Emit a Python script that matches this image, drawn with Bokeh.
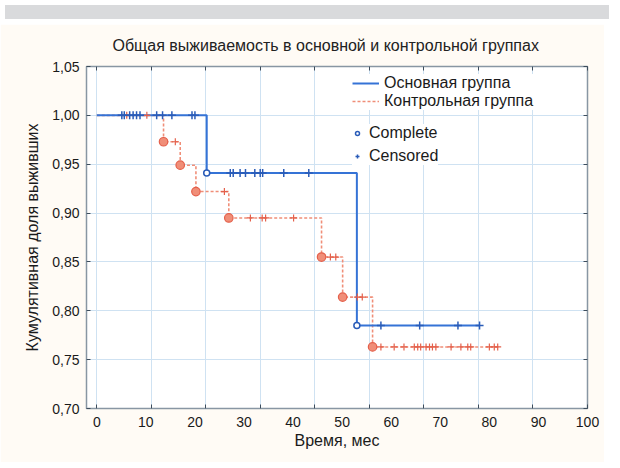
from bokeh.plotting import figure
from bokeh.models import (Range1d, LinearAxis, FixedTicker, CustomJSTickFormatter,
                          Legend, LegendItem, Div)
from bokeh.layouts import column
from bokeh.embed import file_html
from bokeh.resources import INLINE

# ---------------- data ----------------
# Основная группа (main group): event times and survival after each step
main_event_t = [0.0, 22.4, 53.0]
main_surv = [1.0, 0.941, 0.785]
main_end_t = 78.0
main_complete_t = [22.4, 53.0]
main_cens_t = [5.1, 5.6, 6.7, 7.4, 8.1, 8.8, 12.2, 13.4, 15.3, 19.4, 20.0,
               27.2, 27.8, 29.2, 30.3, 32.2, 33.3, 33.8, 38.1, 43.2,
               57.9, 65.8, 73.6, 78.0]

# Контрольная группа (control group)
ctrl_event_t = [0.0, 13.6, 17.0, 20.2, 26.9, 45.8, 50.1, 56.2]
ctrl_surv = [1.0, 0.973, 0.949, 0.922, 0.895, 0.855, 0.814, 0.763]
ctrl_end_t = 82.0
ctrl_complete_t = [13.6, 17.0, 20.2, 26.9, 45.8, 50.1, 56.2]
ctrl_cens_t = [6.1, 10.2, 16.0, 26.0, 31.3, 33.7, 34.4, 40.1, 47.6, 48.7,
               53.1, 54.1, 57.9, 60.6, 62.6, 64.7, 65.4, 66.0, 67.1, 67.8,
               68.4, 69.1, 72.2, 74.2, 75.6, 76.2, 80.0, 81.0, 81.7]

x_label_ticks = [0, 10, 20, 30, 40, 50, 60, 70, 80, 90, 100]
x_grid_ticks = [0, 11.11, 22.22, 33.33, 44.44, 55.56, 66.67, 77.78, 88.89, 100]
y_ticks = [0.70, 0.75, 0.80, 0.85, 0.90, 0.95, 1.00, 1.05]

title_text = "Общая выживаемость в основной и контрольной группах"
x_title = "Время, мес"
y_title = "Кумулятивная доля выживших"
main_name = "Основная группа"
ctrl_name = "Контрольная группа"


def surv_at(times, event_t, surv):
    out = []
    for t in times:
        s = surv[0]
        for et, sv in zip(event_t, surv):
            if et <= t:
                s = sv
        out.append(s)
    return out


FONT = "Liberation Sans"
BLUE = "#3573d6"
SALMON = "#f08e78"
RED = "#e4604b"
TICK = "#3d4d5c"

p = figure(width=604, height=438, output_backend="svg", toolbar_location=None,
           x_range=Range1d(-2.1, 100), y_range=Range1d(0.70, 1.05),
           min_border_left=86, min_border_right=17, min_border_top=42,
           min_border_bottom=54)
p.background_fill_color = "white"
p.border_fill_color = "#fffbf5"
p.outline_line_color = "#8896a3"
p.outline_line_width = 1.5

# title
p.title.text = title_text
p.title.align = "left"
p.title.offset = 26
p.title.standoff = 21
p.title.vertical_align = "top"
p.title.text_font = FONT
p.title.text_font_size = "16px"
p.title.text_font_style = "normal"
p.title.text_color = "#222222"


def tick_only(axis):
    axis.formatter = CustomJSTickFormatter(code="return '';")
    axis.major_label_text_font_size = "1px"
    axis.major_label_text_color = None
    axis.major_label_standoff = 0
    axis.major_tick_in = 4
    axis.major_tick_out = 0
    axis.major_tick_line_color = TICK
    axis.minor_tick_line_color = None
    axis.axis_line_color = None


# x tick-only axis (adjacent to frame)
xa = p.xaxis[0]
xa.ticker = FixedTicker(ticks=x_grid_ticks)
tick_only(xa)

# x label axis
xl = LinearAxis(ticker=FixedTicker(ticks=x_label_ticks), axis_label=x_title,
                major_tick_line_color=None, minor_tick_line_color=None,
                axis_line_color=None, major_label_standoff=2,
                major_label_text_font=FONT, major_label_text_font_size="14px",
                major_label_text_color="#1a1a1a",
                axis_label_text_font=FONT, axis_label_text_font_size="16px",
                axis_label_text_font_style="normal", axis_label_text_color="#1a1a1a",
                axis_label_standoff=2)
p.add_layout(xl, "below")

# y axis
ya = p.yaxis[0]
ya.ticker = FixedTicker(ticks=y_ticks)
ya.formatter = CustomJSTickFormatter(code="return tick.toFixed(2).replace('.', ',');")
ya.major_tick_in = 4
ya.major_tick_out = 0
ya.major_tick_line_color = TICK
ya.minor_tick_line_color = None
ya.axis_line_color = None
ya.major_label_standoff = 7
ya.major_label_text_font = FONT
ya.major_label_text_font_size = "14px"
ya.major_label_text_color = "#1a1a1a"
ya.axis_label = y_title
ya.axis_label_text_font = FONT
ya.axis_label_text_font_size = "16px"
ya.axis_label_text_font_style = "normal"
ya.axis_label_text_color = "#1a1a1a"
ya.axis_label_standoff = 8

# tick-only axes above and right
xt = LinearAxis(ticker=FixedTicker(ticks=x_grid_ticks))
tick_only(xt)
p.add_layout(xt, "above")
yr = LinearAxis(ticker=FixedTicker(ticks=y_ticks))
tick_only(yr)
p.add_layout(yr, "right")

# grids
p.xgrid.grid_line_color = "#cfe2f2"
p.ygrid.grid_line_color = "#cfe2f2"
p.xgrid.grid_line_width = 1
p.ygrid.grid_line_width = 1

# curves
ctrl_line = p.step(x=ctrl_event_t + [ctrl_end_t], y=ctrl_surv + [ctrl_surv[-1]],
                   mode="after", line_color=SALMON, line_width=1.6, line_dash="3 2")
main_line = p.step(x=main_event_t + [main_end_t], y=main_surv + [main_surv[-1]],
                   mode="after", line_color=BLUE, line_width=2)

p.scatter(x=ctrl_complete_t, y=surv_at(ctrl_complete_t, ctrl_event_t, ctrl_surv),
          marker="circle", size=8.5, fill_color=SALMON, line_color=RED, line_width=1.2)
p.scatter(x=ctrl_cens_t, y=surv_at(ctrl_cens_t, ctrl_event_t, ctrl_surv),
          marker="cross", size=7, line_color=RED, line_width=1.2)
main_complete = p.scatter(x=main_complete_t, y=surv_at(main_complete_t, main_event_t, main_surv),
                          marker="circle", size=6, fill_color="white", line_color="#2a5cb8",
                          line_width=1.5)
main_cens = p.scatter(x=main_cens_t, y=surv_at(main_cens_t, main_event_t, main_surv),
                      marker="cross", size=8, line_color="#2a5cb8", line_width=1.5)

# legends
leg1 = Legend(items=[LegendItem(label=main_name, renderers=[main_line]),
                     LegendItem(label=ctrl_name, renderers=[ctrl_line])],
              location=(266, 298), orientation="vertical", glyph_width=27, glyph_height=16,
              label_height=16, spacing=0, padding=2, margin=0, label_standoff=5,
              border_line_color=None, background_fill_color="white", background_fill_alpha=1,
              label_text_font=FONT, label_text_font_size="16px", label_text_color="#1a1a1a")
leg2 = Legend(items=[LegendItem(label="Complete", renderers=[main_complete]),
                     LegendItem(label="Censored", renderers=[main_cens])],
              location=(266, 243), orientation="vertical", glyph_width=10, glyph_height=16,
              label_height=16, spacing=5, padding=2, margin=0, label_standoff=7,
              border_line_color=None, background_fill_color="white", background_fill_alpha=1,
              label_text_font=FONT, label_text_font_size="16px", label_text_color="#1a1a1a")
p.add_layout(leg1)
p.add_layout(leg2)

band = Div(width=604, height=14, styles={"background-color": "#d9dadc"})
layout = column(band, p)

open("out.html", "w").write(file_html(layout, INLINE))
